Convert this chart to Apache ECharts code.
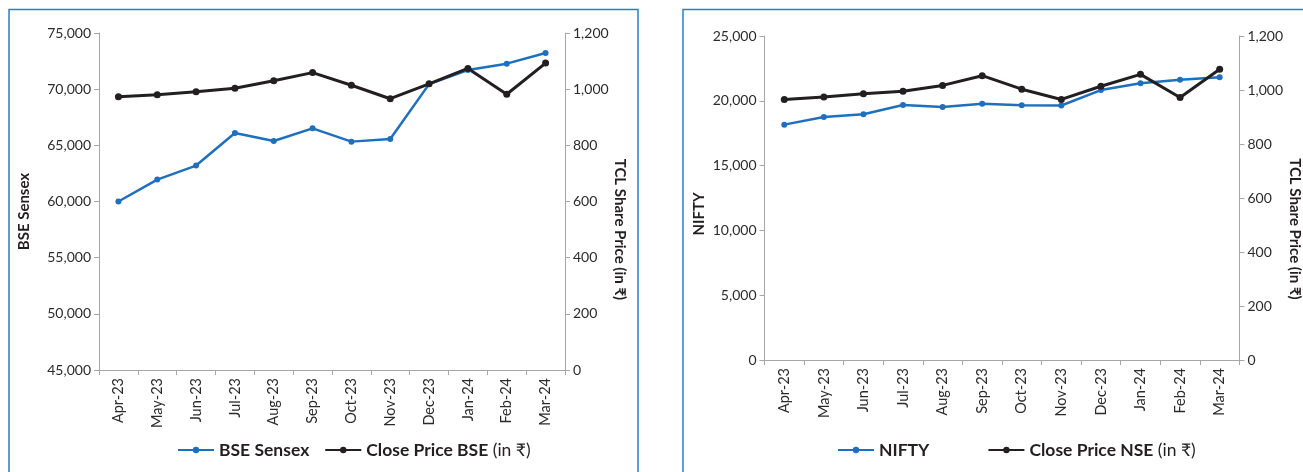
<!DOCTYPE html>
<html>
<head>
<meta charset="utf-8">
<script src="https://cdn.jsdelivr.net/npm/echarts@6/dist/echarts.min.js"></script>
<style>
html,body{margin:0;padding:0;background:#fff;}
#chart{width:1303px;height:472px;}
</style>
</head>
<body>
<div id="chart"></div>
<script>
// ---- data ----
const months = ['Apr-23','May-23','Jun-23','Jul-23','Aug-23','Sep-23','Oct-23','Nov-23','Dec-23','Jan-24','Feb-24','Mar-24'];
const bseSensex = [60000, 61950, 63200, 66100, 65390, 66510, 65330, 65560, 70450, 71710, 72270, 73220];
const closeBSE = [973, 980, 991, 1003, 1030, 1059, 1014, 966, 1019, 1074, 982, 1093];
const nifty = [18160, 18750, 18960, 19680, 19520, 19780, 19650, 19640, 20830, 21350, 21630, 21810];
const closeNSE = [965, 974, 986, 995, 1017, 1053, 1003, 965, 1014, 1058, 972, 1077];
const sensexTicks = {min: 45000, max: 75000, interval: 5000};
const niftyTicks = {min: 0, max: 25000, interval: 5000};
const priceTicks = {min: 0, max: 1200, interval: 200};

// ---- styles ----
const FONT = 'Lato, "Liberation Sans", "DejaVu Sans", sans-serif';
const TXT = '#2b2b2b';
const AX = '#a6a6a6';
const BLUE = '#1f6fbf';
const BLACK = '#231f20';
const fmt = v => v.toLocaleString('en-US');

function xAx(gi){
  return {
    type:'category', gridIndex:gi, data:months, boundaryGap:true,
    axisLine:{lineStyle:{color:AX,width:1}},
    axisTick:{show:true,length:5,lineStyle:{color:AX}},
    axisLabel:{rotate:90,margin:8,color:TXT,fontSize:14.5,fontFamily:FONT},
    splitLine:{show:false}
  };
}
function yAx(gi, t, pos, name, gap, rot, pad){
  return {
    type:'value', gridIndex:gi, position:pos, min:t.min, max:t.max, interval:t.interval,
    name:name, nameLocation:'middle', nameGap:gap, nameRotate:rot,
    nameTextStyle:{fontFamily:FONT,fontWeight:'bold',fontSize:15,color:BLACK,padding:pad},
    axisLine:{show:true,lineStyle:{color:AX,width:1}},
    axisTick:{show:true,length:5,lineStyle:{color:AX}},
    axisLabel:{margin:8,color:TXT,fontSize:14,fontFamily:FONT,formatter:fmt},
    splitLine:{show:false}
  };
}
function lineS(name, data, xi, yi, color, w, sz){
  return {
    name:name, type:'line', data:data, xAxisIndex:xi, yAxisIndex:yi,
    symbol:'circle', symbolSize:sz, showSymbol:true,
    lineStyle:{color:color,width:w}, itemStyle:{color:color},
    emphasis:{disabled:true}, animation:false
  };
}
const legendText = {
  fontFamily:FONT, fontSize:17.5, color:BLACK,
  rich:{b:{fontFamily:FONT,fontSize:17.5,fontWeight:'bold',color:BLACK},
        r:{fontFamily:FONT,fontSize:17.5,fontWeight:'normal',color:BLACK}}
};
function legFmt(n){
  const i = n.indexOf(' (in');
  if(i<0) return '{b|'+n+'}';
  return '{b|'+n.slice(0,i)+'}{r|'+n.slice(i)+'}';
}

const option = {
  backgroundColor:'#fff',
  animation:false,
  graphic:[
    {type:'rect', shape:{x:9,y:9.5,width:629,height:520}, style:{fill:'none',stroke:'#2e7dc6',lineWidth:1.5}, silent:true},
    {type:'rect', shape:{x:683,y:9.5,width:700,height:520}, style:{fill:'none',stroke:'#2e7dc6',lineWidth:1.5}, silent:true}
  ],
  grid:[
    {left:99, top:33, width:466, height:337, containLabel:false},
    {left:764.5, top:36, width:479.5, height:324, containLabel:false}
  ],
  xAxis:[xAx(0), xAx(1)],
  yAxis:[
    yAx(0, sensexTicks, 'left', 'BSE Sensex', 67, 90, [0,20,0,0]),
    yAx(0, priceTicks, 'right', 'TCL Share Price (in ₹)', 46, -90, [0,0,0,56]),
    yAx(1, niftyTicks, 'left', 'NIFTY', 58, 90, [0,32,0,0]),
    yAx(1, priceTicks, 'right', 'TCL Share Price (in ₹)', 43, -90, [0,0,0,62])
  ],
  legend:[
    {data:['BSE Sensex','Close Price BSE (in ₹)'], left:177, top:441, padding:0, itemWidth:36, itemHeight:8, itemGap:15,
     textStyle:legendText, formatter:legFmt, selectedMode:false},
    {data:['NIFTY','Close Price NSE (in ₹)'], left:837, top:441, padding:0, itemWidth:36, itemHeight:8, itemGap:58,
     textStyle:legendText, formatter:legFmt, selectedMode:false}
  ],
  series:[
    lineS('BSE Sensex', bseSensex, 0, 0, BLUE, 2.5, 6),
    lineS('Close Price BSE (in ₹)', closeBSE, 0, 1, BLACK, 3, 7),
    lineS('NIFTY', nifty, 1, 2, BLUE, 2.5, 6),
    lineS('Close Price NSE (in ₹)', closeNSE, 1, 3, BLACK, 3, 7)
  ]
};
const chart = echarts.init(document.getElementById('chart'), null, {renderer:'canvas'});
chart.setOption(option);
</script>
</body>
</html>
